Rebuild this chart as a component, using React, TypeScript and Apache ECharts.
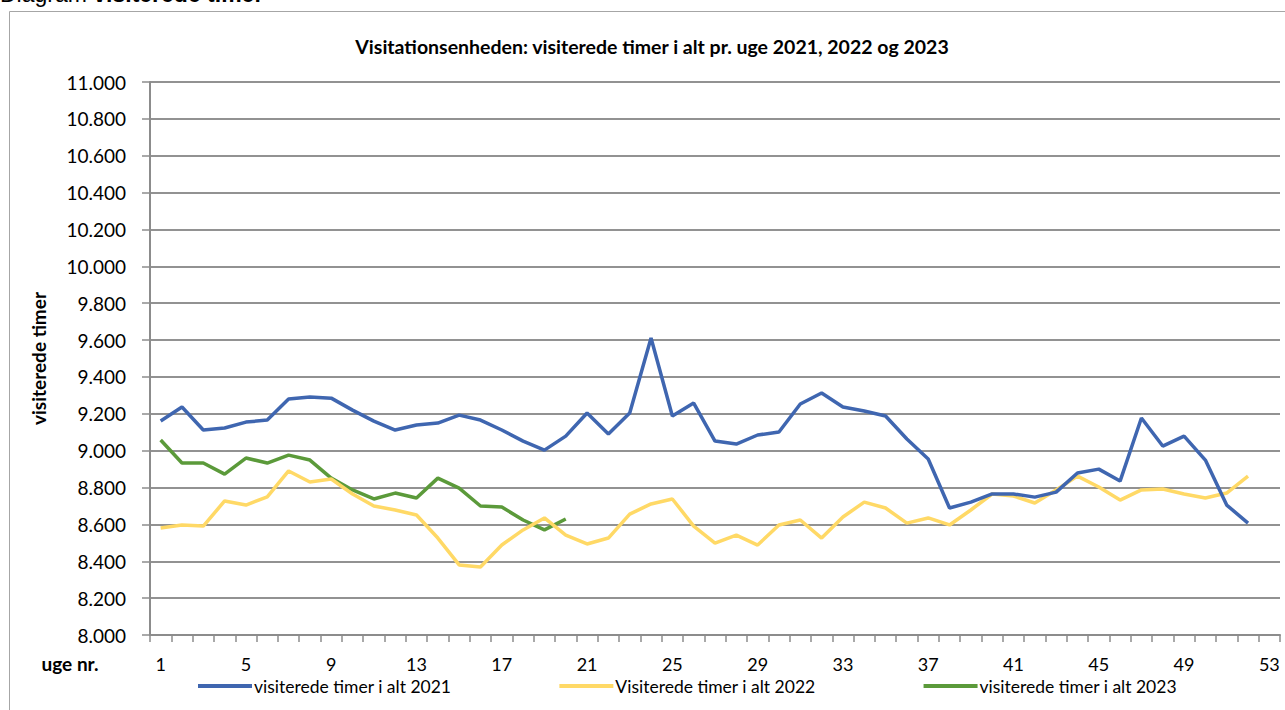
import React, { useEffect, useRef } from "react";
import * as echarts from "echarts";

const weeks: string[] = Array.from({ length: 53 }, (_, i) => String(i + 1));

const series2021: (number | null)[] = [
  9161, 9237, 9112, 9123, 9155, 9166, 9280, 9291, 9285, 9220,
  9160, 9112, 9139, 9150, 9193, 9166, 9112, 9052, 9003, 9079,
  9204, 9090, 9204, 9611, 9188, 9258, 9052, 9036, 9085, 9101,
  9253, 9313, 9237, 9215, 9188, 9063, 8955, 8689, 8721, 8765,
  8765, 8748, 8775, 8879, 8900, 8835, 9177, 9025, 9079, 8949,
  8705, 8607, null,
];

const series2022: (number | null)[] = [
  8580, 8597, 8591, 8727, 8705, 8749, 8890, 8830, 8846, 8765,
  8700, 8678, 8651, 8526, 8380, 8369, 8488, 8570, 8635, 8542,
  8494, 8526, 8656, 8711, 8738, 8591, 8499, 8542, 8488, 8597,
  8624, 8526, 8640, 8721, 8689, 8607, 8635, 8597, 8678, 8765,
  8754, 8716, 8787, 8862, 8803, 8732, 8787, 8792, 8765, 8743,
  8770, 8862, null,
];

const series2023: (number | null)[] = [
  9058, 8933, 8933, 8873, 8960, 8933, 8976, 8949, 8851, 8787,
  8738, 8770, 8743, 8851, 8797, 8700, 8694, 8624, 8570, 8629,
];

const seriesNames: string[] = [
  "visiterede timer i alt 2021",
  "Visiterede timer i alt 2022",
  "visiterede timer i alt 2023",
];
const seriesColors: string[] = ["#3F66B0", "#FFD966", "#5B9A3A"];

const FONT = "Lato, 'Open Sans', sans-serif";

function fmt(v: number): string {
  const s = Math.round(v).toString();
  return s.replace(/\B(?=(\d{3})+(?!\d))/g, ".");
}

export default function App() {
  const ref = useRef<HTMLDivElement>(null);

  useEffect(() => {
    if (!ref.current) return;
    const chart = echarts.init(ref.current, null, { renderer: "svg" });
    const data = [series2021, series2022, series2023];
    chart.setOption({
      animation: false,
      backgroundColor: "#ffffff",
      textStyle: { fontFamily: FONT },
      graphic: [
        {
          type: "rect",
          shape: { x: 9.5, y: 11.5, width: 1300, height: 720 },
          style: { fill: "none", stroke: "#a6a6a6", lineWidth: 1 },
          silent: true,
        },
        {
          type: "text",
          left: 0,
          top: -18,
          style: {
            text: "Diagram {b|visiterede timer}",
            font: "23px 'Liberation Sans', Arial, sans-serif",
            fill: "#000",
            rich: { b: { fontWeight: "bold", fontSize: 23, fontFamily: "'Liberation Sans', Arial, sans-serif" } },
          },
        },
        {
          type: "text",
          x: 652,
          y: 46,
          style: {
            text: "Visitationsenheden: visiterede timer i alt pr. uge 2021, 2022 og 2023",
            font: `bold 19.5px ${FONT}`,
            fill: "#000",
            align: "center",
            verticalAlign: "middle",
          },
        },
        {
          type: "text",
          x: 70,
          y: 663,
          style: {
            text: "uge nr.",
            font: `bold 19px ${FONT}`,
            fill: "#000",
            align: "center",
            verticalAlign: "middle",
          },
        },
      ],
      legend: {
        bottom: 10,
        left: 193,
        itemWidth: 54,
        itemHeight: 4,
        itemGap: 108,
        icon: "rect",
        textStyle: { fontSize: 17.5, color: "#000", fontFamily: FONT, padding: [0, 0, 0, -3] },
        data: seriesNames,
      },
      grid: { left: 150, right: 5, top: 82, bottom: 75, containLabel: false },
      xAxis: {
        type: "category",
        data: weeks,
        boundaryGap: true,
        axisLine: { lineStyle: { color: "#8c8c8c", width: 2 } },
        axisTick: { show: true, interval: 0, length: 7, lineStyle: { color: "#8c8c8c", width: 1.5 } },
        axisLabel: { interval: 3, fontSize: 18, color: "#000", margin: 20, fontFamily: FONT },
      },
      yAxis: {
        type: "value",
        min: 8000,
        max: 11000,
        interval: 200,
        name: "visiterede timer",
        nameLocation: "middle",
        nameRotate: 90,
        nameGap: 102,
        nameTextStyle: { fontSize: 19, fontWeight: "bold", color: "#000", fontFamily: FONT },
        axisLine: { show: true, lineStyle: { color: "#8c8c8c", width: 2 } },
        axisTick: { show: true, inside: false, length: 8, lineStyle: { color: "#8c8c8c", width: 1.5 } },
        axisLabel: { fontSize: 19, color: "#000", margin: 24, fontFamily: FONT, formatter: (v: number) => fmt(v) },
        splitLine: { show: true, lineStyle: { color: "#929292", width: 2 } },
      },
      series: data.map((d, i) => ({
        name: seriesNames[i],
        type: "line",
        data: d,
        showSymbol: false,
        symbol: "none",
        connectNulls: false,
        lineStyle: { width: 3.5, color: seriesColors[i] },
        itemStyle: { color: seriesColors[i] },
        z: 3 - i,
      })),
    });
    return () => chart.dispose();
  }, []);

  return (
    <div
      ref={ref}
      style={{ position: "fixed", left: 0, top: 0, width: 1285, height: 710 }}
    />
  );
}
